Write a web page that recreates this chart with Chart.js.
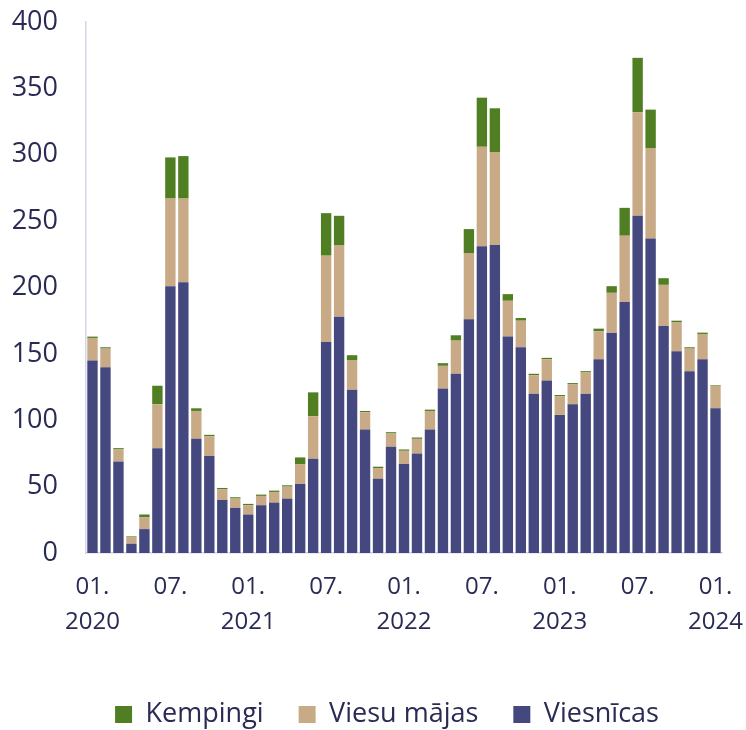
<!DOCTYPE html>
<html>
<head>
<meta charset="utf-8">
<script src="https://cdn.jsdelivr.net/npm/chart.js@4"></script>
<style>
  html, body { margin: 0; padding: 0; background: #fff; }
  #wrap { width: 746px; height: 730px; }
</style>
</head>
<body>
<div id="wrap"><canvas id="myChart"></canvas></div>
<script>
// menesi no 01.2020 lidz 01.2024
const menesi = [
	'2020-01','2020-02','2020-03','2020-04','2020-05','2020-06','2020-07','2020-08','2020-09','2020-10','2020-11','2020-12',
	'2021-01','2021-02','2021-03','2021-04','2021-05','2021-06','2021-07','2021-08','2021-09','2021-10','2021-11','2021-12',
	'2022-01','2022-02','2022-03','2022-04','2022-05','2022-06','2022-07','2022-08','2022-09','2022-10','2022-11','2022-12',
	'2023-01','2023-02','2023-03','2023-04','2023-05','2023-06','2023-07','2023-08','2023-09','2023-10','2023-11','2023-12',
	'2024-01'
];

const viesnicas = [
	145, 140, 69, 7, 18, 79, 201, 204, 86, 73, 40, 34,
	29, 36, 38, 41, 52, 71, 159, 178, 123, 93, 56, 80,
	67, 75, 93, 124, 135, 176, 231, 232, 163, 155, 120, 130,
	104, 112, 120, 146, 166, 189, 254, 237, 171, 152, 137, 146,
	109
];

const viesuMajas = [
	17, 14, 9, 5, 9, 33, 66, 63, 21, 15, 8, 7,
	7, 7, 8, 9, 15, 32, 65, 54, 22, 13, 8, 10,
	10, 11, 14, 17, 25, 50, 75, 70, 27, 20, 14, 16,
	14, 15, 16, 21, 30, 50, 78, 68, 31, 22, 17, 19,
	17
];

const kempingi = [
	1, 1, 1, 0.5, 2, 14, 31, 32, 2, 1, 1, 1,
	1, 1, 1, 1, 5, 18, 32, 22, 4, 1, 1, 1,
	1, 1, 1, 2, 4, 18, 37, 33, 5, 2, 1, 1,
	1, 1, 1, 2, 5, 21, 41, 29, 5, 1, 1, 1,
	0.5
];

const yTicks = [0, 50, 100, 150, 200, 250, 300, 350, 400];

(function () {
	const ctx = document.getElementById('myChart');
	const teksts = '#2a2b55';

	// leģendu nobīda nedaudz pa labi, kā oriģinālā
	const legendaPaLabi = {
		id: 'legendaPaLabi',
		afterLayout(chart) {
			if (chart.legend) {
				chart.legend.left += 10;
				chart.legend.right += 10;
			}
		}
	};

	new Chart(ctx, {
		type: 'bar',
		data: {
			labels: menesi,
			datasets: [
				{ label: 'Viesnīcas', data: viesnicas, backgroundColor: '#45477f' },
				{ label: 'Viesu mājas', data: viesuMajas, backgroundColor: '#c9aa86' },
				{ label: 'Kempingi', data: kempingi, backgroundColor: '#4f7f22' }
			]
		},
		plugins: [legendaPaLabi],
		options: {
			responsive: true,
			maintainAspectRatio: false,
			animation: false,
			layout: { padding: { top: 0, right: 0, left: 8, bottom: -8 } },
			datasets: { bar: { barPercentage: 0.8, categoryPercentage: 1 } },
			plugins: {
				tooltip: { enabled: false },
				legend: {
					position: 'bottom',
					reverse: true,
					labels: {
						color: teksts,
						font: { family: 'Open Sans', size: 27 },
						boxWidth: 17,
						boxHeight: 17,
						padding: 35
					}
				}
			},
			scales: {
				x: {
					stacked: true,
					grid: { display: false, drawTicks: false },
					border: { display: true, color: '#d3d6ea', width: 1.5 },
					ticks: {
						autoSkip: false,
						maxRotation: 0,
						padding: 17,
						color: teksts,
						font: { family: 'Open Sans', size: 24, lineHeight: 1.45 },
						callback: function (value, i) {
							const m = menesi[i];
							const men = m.slice(5);
							if (men === '01') return [men + '.', m.slice(0, 4)];
							if (men === '07') return [men + '.', ''];
							return '';
						}
					},
					afterFit: function (scale) {
						scale.height = 113;
						scale.paddingLeft = 0;
						scale.paddingRight = 24;
					}
				},
				y: {
					stacked: true,
					min: 0,
					max: 400,
					grid: { display: false, drawTicks: false },
					border: { display: true, color: '#d3d6ea', width: 1.5 },
					afterBuildTicks: function (scale) {
						scale.ticks = yTicks.map(v => ({ value: v }));
					},
					afterFit: function (scale) {
						scale.width = 78;
						scale.paddingTop = 22;
						scale.paddingBottom = 0;
					},
					ticks: {
						padding: 28,
						color: teksts,
						font: { family: 'Open Sans', size: 27 }
					}
				}
			}
		}
	});
})();
</script>
</body>
</html>
